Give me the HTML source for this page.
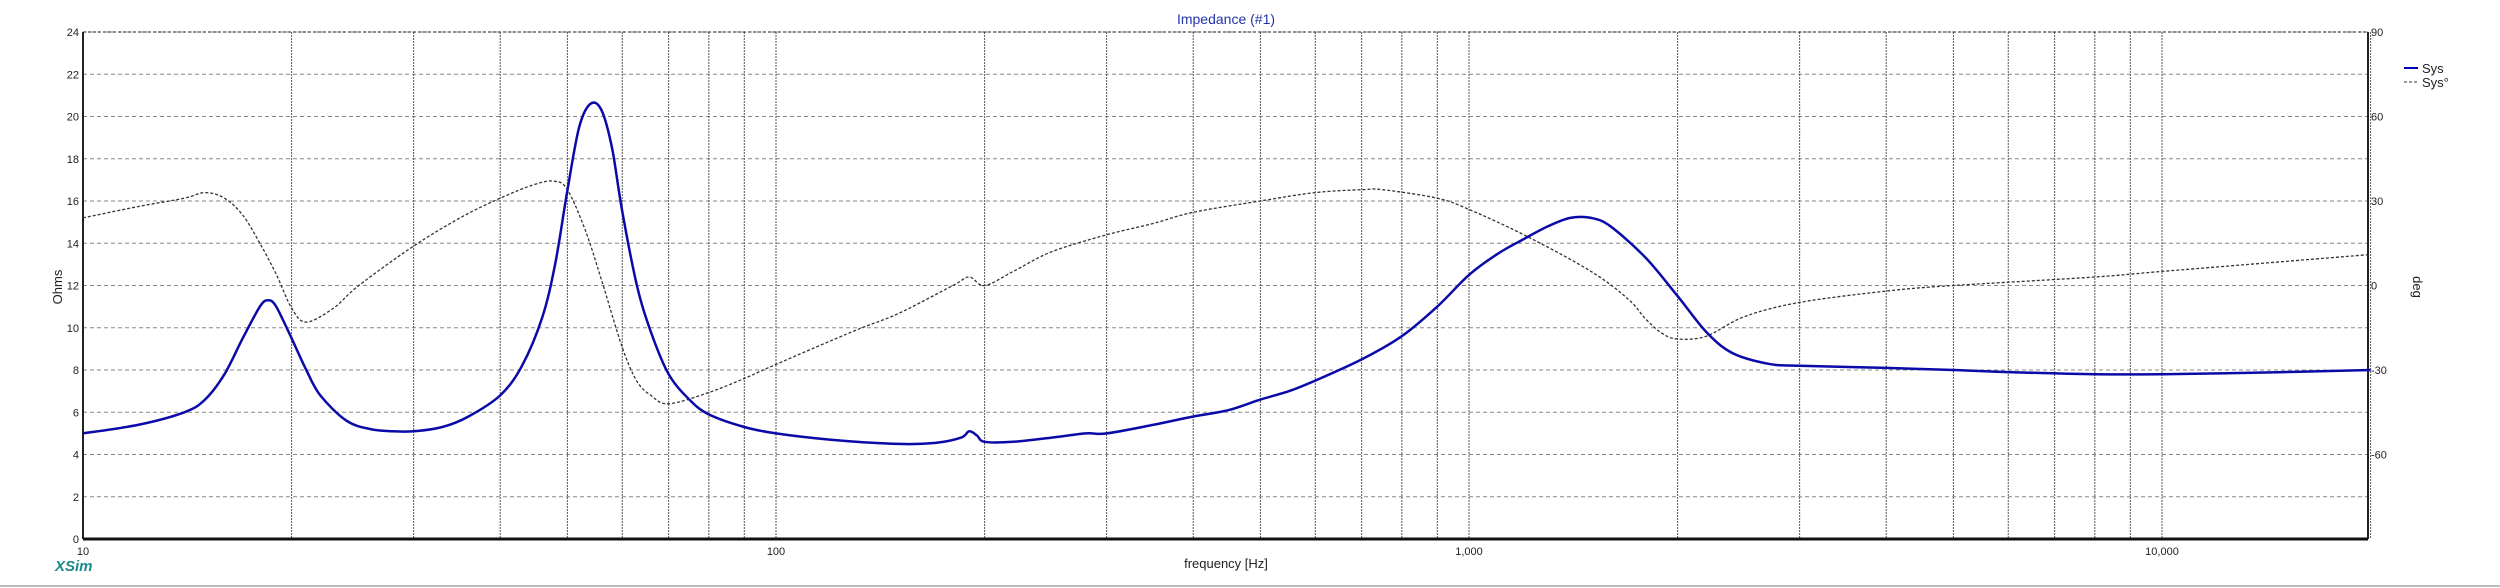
<!DOCTYPE html>
<html><head><meta charset="utf-8"><style>
body{margin:0;background:#fff;}
svg{display:block;font-family:"Liberation Sans",sans-serif;}
</style></head><body>
<svg id="chart" width="2500" height="588" viewBox="0 0 2500 588" xmlns="http://www.w3.org/2000/svg">
<rect x="0" y="0" width="2500" height="588" fill="#fff"/>
<line x1="0" y1="586" x2="2500" y2="586" stroke="#bbb" stroke-width="2"/>
<g id="grid"></g>
<g id="axes"></g>
<g id="series"></g>
<text x="1226" y="24" font-size="14" fill="#2233aa" text-anchor="middle">Impedance (#1)</text>
<text x="1226" y="568" font-size="13" fill="#222" text-anchor="middle">frequency [Hz]</text>
<text transform="translate(62,287) rotate(-90)" font-size="13" fill="#222" text-anchor="middle">Ohms</text>
<text transform="translate(2413,287) rotate(90)" font-size="13" fill="#222" text-anchor="middle">deg</text>
<text x="55" y="571" font-size="15" font-weight="bold" font-style="italic" fill="#1a8a8a">XSim</text>
<g>
<line x1="2404" y1="68" x2="2418" y2="68" stroke="#0000bb" stroke-width="2"/>
<text x="2422" y="73" font-size="13" fill="#222">Sys</text>
<line x1="2404" y1="82" x2="2418" y2="82" stroke="#333" stroke-width="1" stroke-dasharray="3,2"/>
<text x="2422" y="87" font-size="13" fill="#222">Sys°</text>
</g>
</svg>
<script>
const impFreq=[10,12,14,15,16,17,18,18.5,19,20,21,22,24,26,28,30,33,36,40,43,46,48,50,52,54,56,58,60,63,66,70,75,80,90,100,120,150,170,185,190,195,200,220,250,280,300,350,400,450,500,550,600,700,800,900,1000,1100,1200,1300,1400,1500,1600,1800,2000,2200,2400,2700,3000,4000,5000,6000,8000,10000,15000,20000];
const impOhms=[5.0,5.4,6.0,6.6,7.8,9.5,11.0,11.3,11.0,9.5,8.0,6.8,5.6,5.2,5.1,5.1,5.3,5.8,6.8,8.2,10.5,13,16.5,19.5,20.6,20.3,18.5,15.5,12,9.8,7.8,6.6,5.9,5.3,5.0,4.7,4.5,4.55,4.8,5.1,4.9,4.6,4.6,4.8,5.0,5.0,5.4,5.8,6.1,6.6,7.0,7.5,8.5,9.6,11.0,12.5,13.5,14.2,14.8,15.2,15.2,14.8,13.3,11.5,9.8,8.8,8.3,8.2,8.1,8.0,7.9,7.8,7.8,7.9,8.0];
const phFreq=[10,12,14,15,16,17,18,19,20,21,23,25,30,35,40,45,48,50,53,56,60,63,66,70,80,90,100,130,150,180,190,200,220,250,300,350,400,500,600,700,750,900,1000,1200,1500,1700,1800,1900,2000,2200,2500,3000,4000,5000,8000,10000,20000];
const phDeg=[24,28,31,33,31,25,15,4,-8,-13,-8,0,14,24,31,36,37,34,20,2,-22,-34,-39,-42,-38,-33,-28,-16,-10,0,3,0,5,12,18,22,26,30,33,34,34,31,27,18,5,-5,-12,-17,-19,-18,-11,-6,-2,0,3,5,11];
const xTickVals=[10,100,1000,10000];
const xTickLabels=["10","100","1,000","10,000"];
const yTicks=[0,2,4,6,8,10,12,14,16,18,20,22,24];
const y2Ticks=[90,60,30,0,-30,-60];

const X0=83,X1=2368,YT=32,YB=539,DEC=693;
const fx=f=>X0+Math.log10(f/10)*DEC;
const fy=o=>YB-(o/24)*(YB-YT);
const fy2=d=>fy(12+d/7.5);
const NS="http://www.w3.org/2000/svg";
function mk(tag,attrs,parent){const e=document.createElementNS(NS,tag);for(const k in attrs)e.setAttribute(k,attrs[k]);parent.appendChild(e);return e;}
const grid=document.getElementById('grid'),axes=document.getElementById('axes'),series=document.getElementById('series');

yTicks.forEach(v=>{
  const y=fy(v);
  const l=mk('line',{x1:X0,y1:y,x2:X1,y2:y,stroke:'#888','stroke-width':1,'stroke-dasharray':'4,3'},grid);
  
  
  const t=mk('text',{x:X0-4,y:y+4,'font-size':11,'text-anchor':'end',fill:'#222'},axes);
  t.textContent=v;
  
  
});
for(let d=10;d<=10000;d*=10){for(let m=1;m<10;m++){const f=d*m;if(f>20000)break;const x=fx(f);
  const l=mk('line',{x1:x,y1:YT,x2:x,y2:YB,stroke:'#555','stroke-width':1,'stroke-dasharray':'2,1'},grid);
  
  
}}
xTickVals.forEach((v,i)=>{
  const t=mk('text',{x:fx(v),y:YB+16,'font-size':11,'text-anchor':'middle',fill:'#222'},axes);
  t.textContent=xTickLabels[i];
  
  
});
y2Ticks.forEach(v=>{
  const t=mk('text',{x:X1+3,y:fy2(v)+4,'font-size':11,fill:'#222'},axes);
  t.textContent=v;
  
  
});
let a=mk('line',{x1:X0,y1:YT,x2:X0,y2:YB,stroke:'#222','stroke-width':2},axes);


a=mk('line',{x1:X1,y1:YT,x2:X1,y2:YB,stroke:'#222','stroke-width':2},axes);


a=mk('line',{x1:X0,y1:YB,x2:X1,y2:YB,stroke:'#111','stroke-width':3},axes);


a=mk('line',{x1:X0,y1:YT,x2:X1,y2:YT,stroke:'#222','stroke-width':1,'stroke-dasharray':'3,2'},axes);



function smoothPath(xs,ys){
  let pts=xs.map((x,i)=>[x,ys[i]]);
  let d='M'+pts[0][0].toFixed(1)+','+pts[0][1].toFixed(1);
  for(let i=0;i<pts.length-1;i++){
    const p0=pts[i-1]||pts[i],p1=pts[i],p2=pts[i+1],p3=pts[i+2]||p2;
    const c1=[p1[0]+(p2[0]-p0[0])/6,p1[1]+(p2[1]-p0[1])/6];
    const c2=[p2[0]-(p3[0]-p1[0])/6,p2[1]-(p3[1]-p1[1])/6];
    d+=` C${c1[0].toFixed(1)},${c1[1].toFixed(1)} ${c2[0].toFixed(1)},${c2[1].toFixed(1)} ${p2[0].toFixed(1)},${p2[1].toFixed(1)}`;
  }
  return d;
}
const ph=mk('path',{d:smoothPath(phFreq.map(fx),phDeg.map(fy2)),fill:'none',stroke:'#333','stroke-width':1.3,'stroke-dasharray':'3,2'},series);


const im=mk('path',{d:smoothPath(impFreq.map(fx),impOhms.map(fy)),fill:'none',stroke:'#0a0aa8','stroke-width':2.5},series);


</script>
</body></html>
